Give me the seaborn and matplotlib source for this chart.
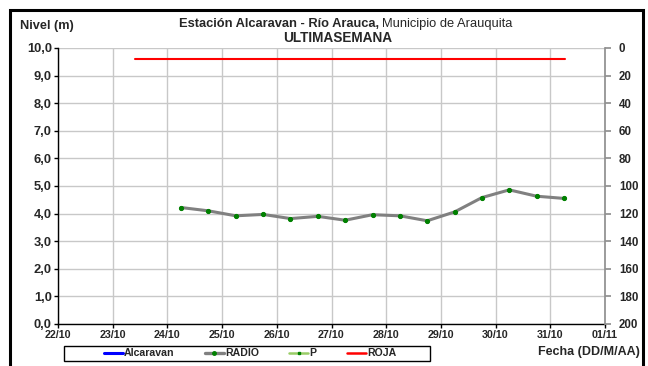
import pandas as pd
import seaborn as sns
import matplotlib.pyplot as plt
import matplotlib.dates as mdates
from matplotlib.lines import Line2D
from matplotlib.patches import Rectangle
from matplotlib.ticker import FuncFormatter

# Datos (nivel cada 12 horas)
radio_time = ['2013-10-24 06:00', '2013-10-24 18:00', '2013-10-25 06:00', '2013-10-25 18:00',
              '2013-10-26 06:00', '2013-10-26 18:00', '2013-10-27 06:00', '2013-10-27 18:00',
              '2013-10-28 06:00', '2013-10-28 18:00', '2013-10-29 06:00', '2013-10-29 18:00',
              '2013-10-30 06:00', '2013-10-30 18:00', '2013-10-31 06:00']
radio_nivel = [4.22, 4.10, 3.92, 3.97, 3.82, 3.90, 3.76, 3.96, 3.92, 3.74, 4.06, 4.58, 4.86, 4.63, 4.55]

roja_time = ['2013-10-23 10:00', '2013-10-31 06:30']
roja_nivel = [9.6, 9.6]

x_ini, x_fin = '2013-10-22', '2013-11-01'

df = pd.DataFrame({'Fecha': pd.to_datetime(radio_time), 'Nivel': radio_nivel})
df_roja = pd.DataFrame({'Fecha': pd.to_datetime(roja_time), 'Nivel': roja_nivel})

sns.set_theme(style='white')
plt.rcParams['font.family'] = ['Liberation Sans', 'DejaVu Sans']

fig = plt.figure(figsize=(6.48, 3.66), dpi=100)
ax = fig.add_axes([58 / 648, 1 - 324 / 366, 547 / 648, 276 / 366])

sns.lineplot(data=df_roja, x='Fecha', y='Nivel', color='#ff0000', linewidth=1.5, ax=ax)
sns.lineplot(data=df, x='Fecha', y='Nivel', color='#808080', linewidth=2.2, ax=ax,
             marker='o', markersize=3, markerfacecolor='#008000', markeredgecolor='#008000')

ax.set_xlim(pd.Timestamp(x_ini), pd.Timestamp(x_fin))
ax.set_ylim(0, 10)
ax.set_yticks(range(0, 11))
ax.yaxis.set_major_formatter(FuncFormatter(lambda v, p: f'{v:.1f}'.replace('.', ',')))
ax.xaxis.set_major_locator(mdates.DayLocator())
ax.xaxis.set_major_formatter(mdates.DateFormatter('%d/%m'))
ax.set_xlabel('')
ax.set_ylabel('')
ax.grid(True, color='#c8c8c8', linewidth=1)
ax.set_axisbelow(True)
for s in ['top', 'right']:
    ax.spines[s].set_visible(False)
for s in ['left', 'bottom']:
    ax.spines[s].set_color('black')
    ax.spines[s].set_linewidth(1)
ax.tick_params(axis='both', which='major', direction='out', length=3, width=1, color='black',
               pad=1.5, left=True, bottom=True)
for lab in ax.get_xticklabels():
    lab.set_fontweight('bold')
    lab.set_fontsize(7.7)
for lab in ax.get_yticklabels():
    lab.set_fontweight('bold')
    lab.set_fontsize(9.3)

# eje derecho (invertido)
ax2 = ax.twinx()
ax2.set_ylim(200, 0)
ax2.set_yticks(range(0, 201, 20))
ax2.grid(False)
for s in ['top', 'left', 'bottom']:
    ax2.spines[s].set_visible(False)
ax2.spines['right'].set_color('#909090')
ax2.tick_params(axis='y', direction='out', length=4, color='#909090', labelsize=8.3, pad=6, right=True)
for lab in ax2.get_yticklabels():
    lab.set_fontweight('bold')

# textos
fig.text(20 / 648, 1 - 26.5 / 366, 'Nivel (m)', fontsize=9.2, fontweight='bold', va='center')
fig.text(379 / 648, 1 - 23.7 / 366, 'Estación Alcaravan - Río Arauca,', fontsize=9.3, fontweight='bold',
         ha='right', va='center')
fig.text(382 / 648, 1 - 23.7 / 366, 'Municipio de Arauquita', fontsize=9.3, ha='left', va='center')
fig.text(338 / 648, 1 - 38 / 366, 'ULTIMASEMANA', fontsize=9.8, fontweight='bold', ha='center', va='center')
fig.text(640 / 648, 1 - 351.7 / 366, 'Fecha (DD/M/AA)', fontsize=9, fontweight='bold', ha='right', va='center')

# leyenda
handles = [
    Line2D([], [], color='#0000ff', linewidth=2.2),
    Line2D([], [], color='#808080', linewidth=2.4, marker='o', markersize=2.5,
           markerfacecolor='#008000', markeredgecolor='#008000'),
    Line2D([], [], color='#99cc66', linewidth=1.8, marker='s', markersize=2,
           markerfacecolor='#008000', markeredgecolor='#008000'),
    Line2D([], [], color='#ff0000', linewidth=1.8),
]
leg = fig.legend(handles, ['Alcaravan', 'RADIO', 'P', 'ROJA'], ncol=4,
                 loc='center', bbox_to_anchor=(250 / 648, 1 - 353.5 / 366),
                 frameon=False, prop={'size': 7.6, 'weight': 'bold'}, handlelength=1.8,
                 handletextpad=0.1, borderpad=0, borderaxespad=0, columnspacing=2.9)
fig.patches.append(Rectangle((64 / 648, 1 - 361 / 366), 366 / 648, 15.5 / 366, transform=fig.transFigure,
                             fill=False, edgecolor='black', linewidth=1, figure=fig))

# marco exterior
fig.patches.append(Rectangle((10 / 648, -0.05), 633 / 648, 1.05 - 10 / 366, transform=fig.transFigure,
                             fill=False, edgecolor='black', linewidth=2.2, figure=fig))

fig.savefig('out.png', dpi=100)
